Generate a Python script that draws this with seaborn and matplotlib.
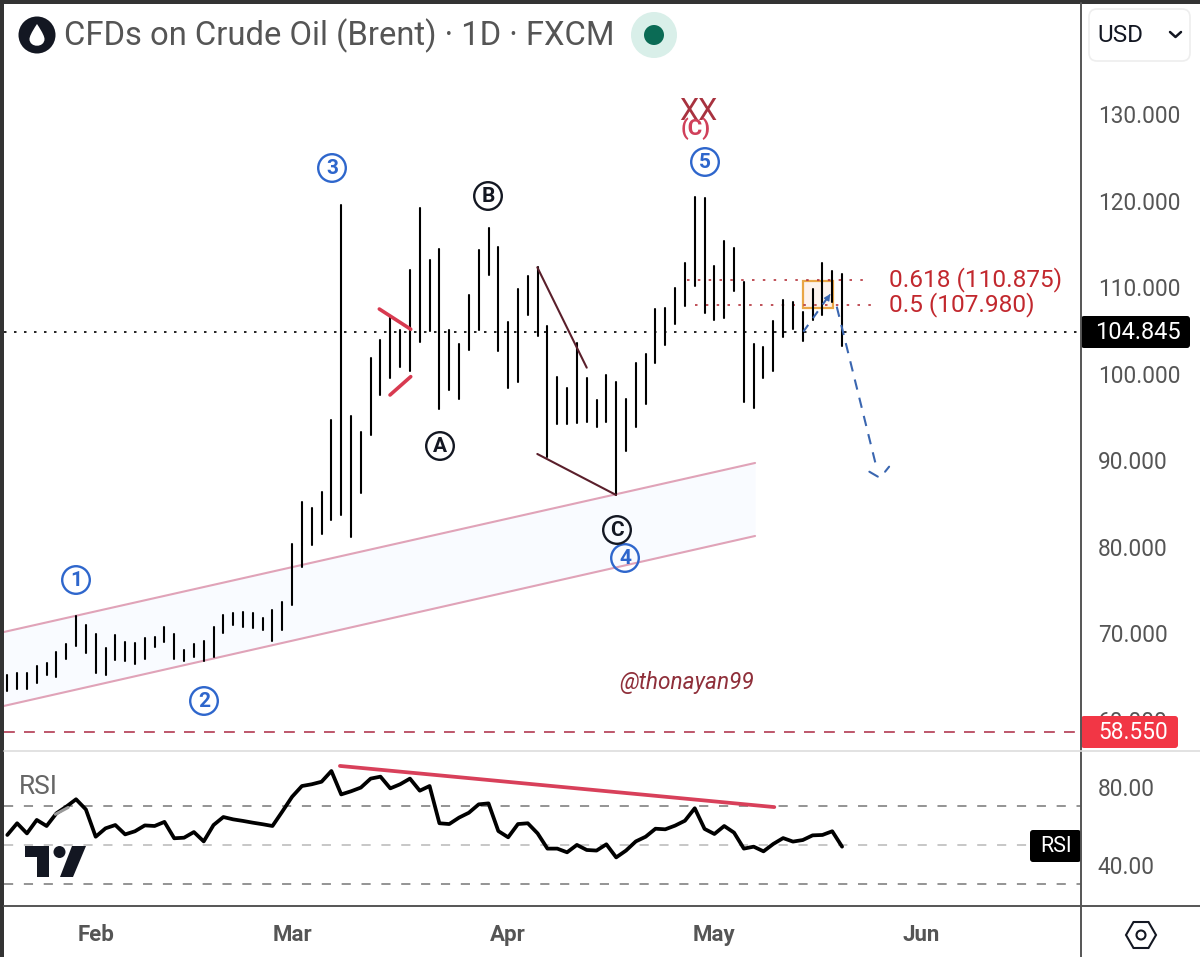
import numpy as np
import pandas as pd
import matplotlib
matplotlib.use("Agg")
import matplotlib.pyplot as plt
import seaborn as sns
from matplotlib.patches import Circle, FancyBboxPatch, Polygon, PathPatch, Rectangle
from matplotlib.path import Path

# --- Data ---
bar_high = [65.2, 65.47, 65.43, 66.24, 66.62, 67.83, 68.78, 72.02, 70.98, 69.94,
            68.29, 69.79, 69.02, 68.87, 69.51, 69.56, 70.78, 69.94, 68.09, 68.78,
            69.10, 70.78, 72.17, 72.40, 72.52, 72.33, 71.82, 72.68, 73.60, 80.35,
            85.24, 84.54, 86.36, 94.65, 119.54, 95.11, 93.26, 101.88, 103.93, 106.62,
            105.05, 112.02, 119.16, 113.21, 114.45, 105.09, 103.43, 109.10, 114.33, 116.91,
            114.65, 106.01, 109.83, 111.36, 112.33, 105.58, 99.62, 98.35, 103.55, 99.50,
            96.99, 99.88, 99.07, 97.07, 101.24, 102.35, 107.51, 107.59, 109.91, 112.80,
            120.43, 120.35, 112.49, 115.38, 114.53, 110.64, 103.47, 103.16, 106.09, 108.52,
            108.36, 107.20, 109.83, 112.80, 111.87, 111.60]
bar_low = [63.39, 63.58, 63.58, 64.28, 65.24, 64.97, 67.08, 68.55, 67.74, 65.40,
           65.17, 66.97, 66.85, 66.51, 67.08, 68.40, 68.98, 67.02, 66.85, 67.28,
           66.85, 67.32, 70.09, 71.02, 70.78, 70.67, 70.40, 69.13, 70.40, 73.26,
           77.72, 80.23, 81.47, 83.09, 83.66, 81.12, 86.21, 92.95, 97.61, 99.50,
           100.84, 100.35, 103.73, 104.97, 95.99, 98.15, 97.11, 102.74, 105.09, 111.41,
           102.69, 98.42, 99.07, 106.82, 104.43, 90.44, 94.22, 94.22, 94.30, 94.42,
           93.91, 94.42, 86.01, 91.13, 93.87, 96.57, 101.24, 103.35, 105.78, 107.90,
           110.14, 107.05, 106.21, 106.51, 109.56, 96.76, 96.03, 99.50, 100.35, 104.28,
           105.24, 103.85, 106.28, 106.85, 108.36, 103.24]
rsi_values = [55.4, 61.4, 56.2, 63.1, 60, 66.5, 69.9, 73.7, 68.5, 54.5,
              58.8, 60.5, 55.7, 57.3, 60.3, 60, 62.1, 53.7, 54, 56.9,
              52.1, 60.5, 64.6, 63.4, 62.6, 61.7, 60.9, 60, 67.4, 75,
              80.5, 81.4, 82.7, 88.2, 76.2, 77.8, 79.7, 84.3, 85.3, 79.3,
              81.4, 84.3, 78.1, 80.5, 61.4, 61, 64.3, 66.8, 71.1, 71.6,
              57.4, 54.2, 61, 61.4, 56.2, 48.4, 48.4, 46.5, 50.3, 47.7,
              47.4, 50.6, 43.9, 47.4, 52.1, 54.5, 58.6, 58.3, 60.2, 62.7,
              69.1, 58.5, 55.9, 60, 56.6, 48.4, 49.4, 47, 50.8, 53.8,
              52, 52.8, 55.2, 55.4, 57.3, 49.4]

price_ticks = [60, 70, 80, 90, 100, 110, 120, 130]
rsi_ticks = [40, 80]
rsi_levels = [70, 50, 30]
month_pos = [9, 29, 51, 72, 93]
month_labels = ["Feb", "Mar", "Apr", "May", "Jun"]

last_price = 104.845
stop_price = 58.55
fib_levels = [110.875, 107.98]
fib_labels = ["0.618 (110.875)", "0.5 (107.980)"]

# drawn lines, as (bar index, price)
channel_x = [-0.34, 76.14]
channel_top = [70.17, 89.71]
channel_bot = [61.62, 81.27]
wedge_red = [([37.88, 41.08], [107.51, 105.17]), ([38.97, 41.08], [97.57, 99.69])]
wedge_dark = [([53.97, 59.0], [112.33, 100.73]), ([53.97, 61.99], [90.75, 86.01])]
arrow_up_x, arrow_up_y = [81.06, 83.95], [104.89, 109.51]
arrow_down_x, arrow_down_y = [84.46, 88.55], [107.78, 89.0]
barb_left_x, barb_left_y = [87.78, 88.64], [88.7, 88.13]
barb_right_x, barb_right_y = [89.38, 89.79], [88.7, 89.28]
box_x, box_y = [81.06, 84.05], [107.6, 110.8]
rsi_trend_x, rsi_trend_y = [33.87, 78.1], [90.8, 69.7]
rsi_smudge_x, rsi_smudge_y = [4.9, 6.2], [66.0, 69.5]

# --- Long tables for seaborn ---
n = len(bar_high)
bars = pd.DataFrame({
    "bar": list(range(n)) * 2,
    "price": bar_low + bar_high,
})
rsi_df = pd.DataFrame({"bar": range(n), "rsi": rsi_values})

sns.set_theme(style="white")
plt.rcParams["font.family"] = ["Roboto", "DejaVu Sans"]

W, H = 1200, 957
GREY = "#555555"
fig = plt.figure(figsize=(12, 9.57), dpi=100, facecolor="white")
ax = fig.add_axes([4 / W, (H - 751) / H, 1077 / W, 748 / H])
ax_rsi = fig.add_axes([4 / W, (H - 906) / H, 1077 / W, 155 / H])

xlim = (-0.336, 109.33)

# --- Price panel ---
ax.fill_between(channel_x, channel_bot, channel_top, color="#f9fbff", lw=0, zorder=1)
ax.plot(channel_x, channel_top, color="#e0a3b8", lw=1.5, zorder=2)
ax.plot(channel_x, channel_bot, color="#e0a3b8", lw=1.5, zorder=2)
ax.add_patch(Rectangle((box_x[0], box_y[0]), box_x[1] - box_x[0], box_y[1] - box_y[0],
                       fc="#fdf3ee", ec="#e9a646", lw=1.6, zorder=1.5))
sns.lineplot(data=bars, x="bar", y="price", units="bar", estimator=None, color="black",
             lw=1.5, ax=ax, legend=False, zorder=4)

ax.axhline(last_price, color="black", lw=1.2, ls=(0, (1.5, 4.5)), zorder=3)
ax.axhline(stop_price, color="#b23a52", lw=1.2, ls=(0, (6.5, 5.5)), zorder=3)
for lvl, x0 in zip(fib_levels, [69.2, 70.0]):
    ax.plot([x0, 87.9], [lvl, lvl], color="#b5343c", lw=1.2, ls=(0, (1.5, 5)), zorder=3)
for xs, ys in wedge_red:
    ax.plot(xs, ys, color="#d83a50", lw=2.6, solid_capstyle="round", zorder=5)
for xs, ys in wedge_dark:
    ax.plot(xs, ys, color="#5a1f2b", lw=1.5, zorder=5)

blue = "#3a66b0"
ax.plot(arrow_up_x, arrow_up_y, color=blue, lw=1.5, ls=(0, (4, 4)), zorder=5)
ax.plot(arrow_down_x, arrow_down_y, color=blue, lw=1.5, ls=(0, (5, 4)), zorder=5)
ax.plot(barb_left_x, barb_left_y, color=blue, lw=1.5, zorder=5)
ax.plot(barb_right_x, barb_right_y, color=blue, lw=1.5, zorder=5)
ax.annotate("", xy=(arrow_up_x[1], arrow_up_y[1]), xytext=(83.6, 108.9),
            arrowprops=dict(arrowstyle="-|>", color=blue, lw=1, mutation_scale=9), zorder=5)

ax.set_xlim(xlim)
ax.set_ylim(56.41, 142.89)
ax.yaxis.tick_right()
ax.set_yticks(price_ticks)
ax.set_yticklabels([f"{t:.3f}" for t in price_ticks], fontsize=16.3, color=GREY)
ax.tick_params(axis="y", length=0, pad=12)
ax.tick_params(axis="x", bottom=False, labelbottom=False)
ax.set_xlabel("")
ax.set_ylabel("")
sns.despine(ax=ax, left=True, top=True, bottom=True, right=True)

# --- RSI panel ---
for lvl, col in zip(rsi_levels, ["#777777", "#b8b8b8", "#777777"]):
    ax_rsi.axhline(lvl, color=col, lw=1.1, ls=(0, (6, 7)), zorder=1)
sns.lineplot(data=rsi_df, x="bar", y="rsi", color="black", lw=2.7, ax=ax_rsi, legend=False,
             estimator=None, zorder=3)
ax_rsi.plot(rsi_smudge_x, rsi_smudge_y, color="#999999", lw=2.2, zorder=4)
ax_rsi.plot(rsi_trend_x, rsi_trend_y, color="#d8405a", lw=2.7, zorder=4)
ax_rsi.set_xlim(xlim)
ax_rsi.set_ylim(18.97, 98.46)
ax_rsi.yaxis.tick_right()
ax_rsi.set_yticks(rsi_ticks)
ax_rsi.set_yticklabels([f"{t:.2f}" for t in rsi_ticks], fontsize=16.3, color=GREY)
ax_rsi.set_xticks(month_pos)
ax_rsi.set_xticklabels(month_labels, fontsize=16, color=GREY, fontweight="bold")
ax_rsi.tick_params(axis="y", length=0, pad=12)
ax_rsi.tick_params(axis="x", length=0, pad=13)
ax_rsi.set_xlabel("")
ax_rsi.set_ylabel("")
sns.despine(ax=ax_rsi, left=True, top=True, bottom=True, right=True)

# --- Overlay in picture pixels: window chrome, tags, wave labels ---
ui = fig.add_axes([0, 0, 1, 1], zorder=10)
ui.set_xlim(0, W)
ui.set_ylim(H, 0)
ui.axis("off")
ui.patch.set_alpha(0)

ui.add_patch(Rectangle((0, 0), 3.5, H, fc="#333333", lw=0))
ui.add_patch(Rectangle((0, 0), W, 3.5, fc="#333333", lw=0))
ui.plot([1081, 1081], [3, H], color="#555555", lw=1.4)
ui.plot([4, W], [751, 751], color="#dddddd", lw=1.2)
ui.plot([4, W], [906, 906], color="#555555", lw=1.4)

# header
ui.add_patch(Circle((37, 35), 18.5, fc="#131722", lw=0))
drop = Path([(37, 24), (31, 33), (29.5, 37), (29.5, 39), (29.5, 48), (44.5, 48), (44.5, 39),
             (44.5, 37), (43, 33), (37, 24)],
            [Path.MOVETO] + [Path.CURVE4] * 9)
ui.add_patch(PathPatch(drop, fc="white", lw=0))
ui.text(64, 36, "CFDs on Crude Oil (Brent) · 1D · FXCM", fontsize=23.6, color=GREY,
        va="center", ha="left")
ui.add_patch(Circle((654, 35), 23, fc="#d9efe9", lw=0))
ui.add_patch(Circle((654, 35), 10, fc="#0b6b55", lw=0))

# currency button
ui.add_patch(FancyBboxPatch((1097, 17), 85, 36, boxstyle="round,pad=8,rounding_size=8", fc="white",
                            ec="#eeeeee", lw=1.2))
ui.text(1097, 35, "USD", fontsize=17.5, color="#131722", va="center", ha="left")
ui.plot([1170, 1175.5, 1181], [32, 37, 32], color="#131722", lw=1.8)

# price tags
def tag(x0, x1, y0, y1, color, label, tx, size=16.3):
    ui.add_patch(FancyBboxPatch((x0 + 3, y0 + 3), x1 - x0 - 6, y1 - y0 - 6,
                                boxstyle="round,pad=3,rounding_size=3", fc=color, lw=0))
    ui.text(tx, (y0 + y1) / 2 + 0.5, label, color="white", fontsize=size,
            ha="center", va="center")

tag(1081, 1190, 316, 348, "black", "104.845", 1137.5, 17)
tag(1081, 1178, 716, 748, "#f23645", "58.550", 1133)
tag(1030, 1081, 830, 862, "black", "RSI", 1056, 15.5)

# settings icon
hex_t = np.deg2rad(np.arange(0, 360, 60))
ui.add_patch(Polygon(np.c_[1141 + 15 * np.cos(hex_t), 935 + 15 * np.sin(hex_t)], closed=True,
                     fc="none", ec="#131722", lw=1.5))
ui.add_patch(Circle((1141, 935), 4.5, fc="none", ec="#131722", lw=1.5))

# fibonacci labels
for label, y in zip(fib_labels, [280, 305]):
    ui.text(889, y, label, fontsize=17.6, color="#c2282e", va="center", ha="left")

# wave labels
wave_names = ["1", "2", "3", "4", "5", "A", "B", "C"]
wave_x = [76, 204, 332, 625, 705, 440, 488, 617]
wave_y = [580, 701, 168, 558, 162, 446, 196, 530]
wave_col = ["#2e66cc"] * 5 + ["#131722"] * 3
for name, x, y, col in zip(wave_names, wave_x, wave_y, wave_col):
    ui.add_patch(Circle((x, y), 13.8, fc="none", ec=col, lw=1.7))
    ui.text(x, y + 0.5, name, color=col, fontsize=15, fontweight="bold", ha="center", va="center")

ui.text(698, 111, "XX", fontsize=22, color="#a8323f", ha="center", va="center")
ui.text(695.5, 129, "(C)", fontsize=16, color="#d0405a", ha="center", va="center", fontweight="bold")
ui.text(687, 683, "@thonayan99", fontsize=16.3, color="#8f2f3a", ha="center", va="center", style="italic")
ui.text(19, 787, "RSI", fontsize=19, color="#666666", ha="left", va="center")

# tradingview logo
ui.add_patch(Polygon([(25, 846), (49, 846), (49, 877), (37, 877), (37, 857), (25, 857)], fc="#131722", lw=0))
ui.add_patch(Circle((59.5, 852), 6, fc="#131722", lw=0))
ui.add_patch(Polygon([(72, 846), (86, 846), (73, 877), (60, 877)], fc="#131722", lw=0))

fig.savefig("out.png", dpi=100)
